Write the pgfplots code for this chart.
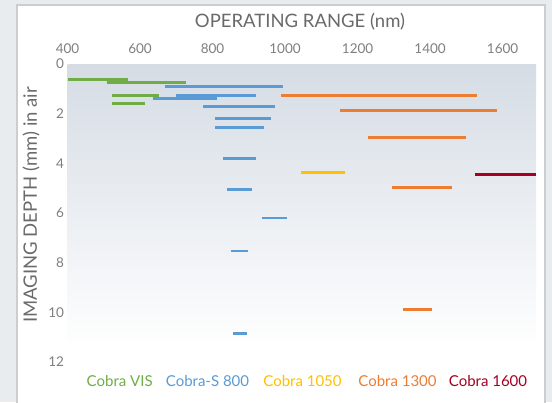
\documentclass[border=0pt]{standalone}
\usepackage{pgfplots}
\pgfplotsset{compat=1.18}
\usepackage{fontspec}
\setmainfont{Lato}
\definecolor{cvis}{HTML}{70AD47}
\definecolor{cs800}{HTML}{5B9BD5}
\definecolor{c1050}{HTML}{FFC000}
\definecolor{c1300}{HTML}{ED7D31}
\definecolor{c1600}{HTML}{A50021}
\definecolor{txt}{HTML}{7F7F7F}
\definecolor{ttl}{HTML}{6A6A6A}
\definecolor{bgout}{HTML}{E9ECEE}
\definecolor{panelborder}{HTML}{CACED1}
\definecolor{plottop}{HTML}{D5DCE4}
\begin{document}
\begin{tikzpicture}[x=1pt,y=1pt]
\useasboundingbox (0,0) rectangle (552,402);
\begin{scope}
\clip (0,0) rectangle (552,402);
\fill[bgout] (0,0) rectangle (552,402);
\fill[white,draw=panelborder,line width=2pt] (17,-5) rectangle (545,397);
\end{scope}
\begin{axis}[
  at={(67.5pt,40pt)}, anchor=south west,
  scale only axis, width=468.5pt, height=298pt,
  xmin=400, xmax=1692, ymin=0, ymax=12,
  y dir=reverse,
  axis line style={draw=none}, tick style={draw=none},
  xtick={400,600,...,1600}, ytick={0,2,...,12},
  xticklabel pos=right,
  ticklabel style={font=\fontsize{13.5}{13.5}\selectfont, text=txt},
  xticklabel style={yshift=7pt},
  /pgf/number format/assume math mode=true,
  /pgf/number format/1000 sep={},
  clip=false,
  unbounded coords=jump,
  every axis plot/.append style={line width=2.8pt, mark=none},
]
\path[top color=plottop, bottom color=white!97!plottop] (axis cs:400,0) rectangle (axis cs:1692,11.2);
\addplot[cvis] coordinates {(400,0.64) (566,0.64) (nan,nan) (508,0.74) (726,0.74) (nan,nan) (524,1.27) (652,1.27) (nan,nan) (524,1.60) (614,1.60)};
\addplot[cs800] coordinates {(668,0.91) (993,0.91) (nan,nan) (700,1.27) (919,1.27) (nan,nan) (637,1.39) (811,1.39) (nan,nan) (775,1.70) (973,1.70) (nan,nan) (807,2.20) (962,2.20) (nan,nan) (807,2.55) (941,2.55) (nan,nan) (829,3.80) (919,3.80) (nan,nan) (840,5.04) (909,5.04) (nan,nan) (936,6.20) (1005,6.20) (nan,nan) (850,7.53) (897,7.53) (nan,nan) (857,10.85) (894,10.85)};
\addplot[c1050] coordinates {(1044,4.37) (1166,4.37)};
\addplot[c1300] coordinates {(990,1.27) (1529,1.27) (nan,nan) (1151,1.86) (1584,1.86) (nan,nan) (1230,2.97) (1498,2.97) (nan,nan) (1295,4.96) (1460,4.96) (nan,nan) (1324,9.90) (1406,9.90)};
\addplot[c1600] coordinates {(1525,4.46) (1692,4.46)};
\end{axis}
\node[text=ttl, font=\fontsize{18.5}{18.5}\selectfont] at (300,380) {OPERATING RANGE (nm)};
\node[text=ttl, font=\fontsize{18.5}{18.5}\selectfont, rotate=90] at (31,197) {IMAGING DEPTH (mm) in air};
\begin{scope}[every node/.style={font=\fontsize{15}{15}\selectfont}]
\node[text=cvis] at (119.7,21) {Cobra VIS};
\node[text=cs800] at (207.5,21) {Cobra-S 800};
\node[text=c1050] at (302.5,21) {Cobra 1050};
\node[text=c1300] at (397.5,21) {Cobra 1300};
\node[text=c1600] at (488,21) {Cobra 1600};
\end{scope}
\end{tikzpicture}
\end{document}
